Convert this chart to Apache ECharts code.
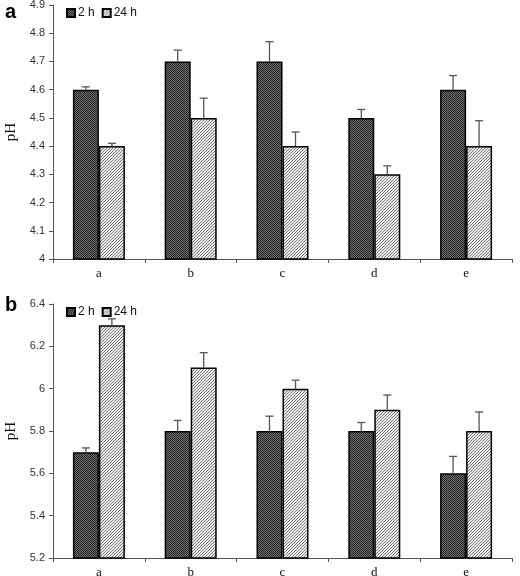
<!DOCTYPE html>
<html><head><meta charset="utf-8">
<script src="https://cdn.jsdelivr.net/npm/echarts@6/dist/echarts.min.js"></script>
<style>html,body{margin:0;padding:0;background:#fff}#c{width:520px;height:576px}</style>
</head><body><div id="c"></div>
<script>
const categories = ['a', 'b', 'c', 'd', 'e'];
const seriesNames = ['2 h', '24 h'];
const phA_2h = [4.6, 4.7, 4.7, 4.5, 4.6];
const errA_2h = [0.01, 0.04, 0.07, 0.03, 0.05];
const phA_24h = [4.4, 4.5, 4.4, 4.3, 4.4];
const errA_24h = [0.01, 0.07, 0.05, 0.03, 0.09];
const phB_2h = [5.7, 5.8, 5.8, 5.8, 5.6];
const errB_2h = [0.02, 0.05, 0.07, 0.04, 0.08];
const phB_24h = [6.3, 6.1, 6.0, 5.9, 5.8];
const errB_24h = [0.03, 0.07, 0.04, 0.07, 0.09];
const panelLabels = ['a', 'b'];
const yAxisName = 'pH';

const BAR_W = 26;

function checker() {
  const c = document.createElement('canvas'); c.width = 2; c.height = 2;
  const g = c.getContext('2d');
  g.fillStyle = '#6e6e6e'; g.fillRect(0, 0, 2, 2);
  g.fillStyle = '#262626'; g.fillRect(0, 0, 1, 1); g.fillRect(1, 1, 1, 1);
  return c;
}
function hatch() {
  const c = document.createElement('canvas'); c.width = 3; c.height = 3;
  const g = c.getContext('2d');
  g.fillStyle = '#ebebeb'; g.fillRect(0, 0, 3, 3);
  g.fillStyle = '#7a7a7a';
  g.fillRect(2, 0, 1, 1); g.fillRect(1, 1, 1, 1); g.fillRect(0, 2, 1, 1);
  return c;
}
const fill2h = { image: checker(), repeat: 'repeat' };
const fill24h = { image: hatch(), repeat: 'repeat' };

const grids = [
  { left: 53, top: 5, width: 459, height: 254, containLabel: false, outerBoundsMode: 'none' },
  { left: 53, top: 304, width: 459, height: 254, containLabel: false, outerBoundsMode: 'none' }
];

function xAxisFor(i) {
  return {
    type: 'category', gridIndex: i, data: categories,
    axisLine: { lineStyle: { color: '#555', width: 1 } },
    axisTick: { show: true, length: 4, lineStyle: { color: '#555' } },
    axisLabel: { color: '#111', fontFamily: 'Liberation Serif', fontSize: 13, margin: 8 }
  };
}
function yAxisFor(i, min, max, interval) {
  return {
    type: 'value', gridIndex: i, min: min, max: max, interval: interval,
    name: yAxisName, nameLocation: 'middle', nameGap: 33, nameRotate: 90,
    nameTextStyle: { fontFamily: 'Liberation Serif', fontSize: 15, color: '#111' },
    axisLine: { show: true, lineStyle: { color: '#555', width: 1 } },
    axisTick: { show: true, length: 4, inside: false, lineStyle: { color: '#555' } },
    axisLabel: { color: '#333', fontFamily: 'Liberation Sans', fontSize: 11, margin: 8 },
    splitLine: { show: false }
  };
}

function barSeries(name, data, fill, i) {
  return {
    type: 'bar', name: name, xAxisIndex: i, yAxisIndex: i, data: data,
    barWidth: BAR_W, barGap: '0%',
    itemStyle: { color: fill, borderColor: '#000', borderWidth: 1.5 },
    emphasis: { disabled: true }, z: 2
  };
}
function errSeries(vals, errs, side, i) {
  return {
    type: 'custom', xAxisIndex: i, yAxisIndex: i, z: 3, silent: true,
    data: vals.map((v, k) => [k, v, v + errs[k]]),
    renderItem: function (params, api) {
      const p0 = api.coord([api.value(0), api.value(1)]);
      const p1 = api.coord([api.value(0), api.value(2)]);
      const x = p0[0] + side * BAR_W / 2;
      const st = { stroke: '#555', lineWidth: 1.3 };
      return {
        type: 'group', children: [
          { type: 'line', shape: { x1: x, y1: p0[1], x2: x, y2: p1[1] }, style: st },
          { type: 'line', shape: { x1: x - 4, y1: p1[1], x2: x + 4, y2: p1[1] }, style: st }
        ]
      };
    }
  };
}

function legendFor(top) {
  return {
    data: seriesNames, left: 61, top: top, orient: 'horizontal',
    icon: 'rect', itemWidth: 8, itemHeight: 8, itemGap: 7,
    selectedMode: false,
    textStyle: { fontFamily: 'Liberation Sans', fontSize: 12, color: '#111', padding: [0, 0, 0, -2] }
  };
}

const chart = echarts.init(document.getElementById('c'), null, { renderer: 'canvas' });
chart.setOption({
  animation: false,
  backgroundColor: '#fff',
  grid: grids,
  xAxis: [xAxisFor(0), xAxisFor(1)],
  yAxis: [yAxisFor(0, 4, 4.9, 0.1), yAxisFor(1, 5.2, 6.4, 0.2)],
  legend: [legendFor(2), legendFor(301)],
  title: [
    { text: panelLabels[0], left: 0, top: -3, textStyle: { fontFamily: 'Liberation Sans', fontWeight: 'bold', fontSize: 20, color: '#000' } },
    { text: panelLabels[1], left: 0, top: 290, textStyle: { fontFamily: 'Liberation Sans', fontWeight: 'bold', fontSize: 20, color: '#000' } }
  ],
  series: [
    barSeries(seriesNames[0], phA_2h, fill2h, 0),
    barSeries(seriesNames[1], phA_24h, fill24h, 0),
    barSeries(seriesNames[0], phB_2h, fill2h, 1),
    barSeries(seriesNames[1], phB_24h, fill24h, 1),
    errSeries(phA_2h, errA_2h, -1, 0),
    errSeries(phA_24h, errA_24h, 1, 0),
    errSeries(phB_2h, errB_2h, -1, 1),
    errSeries(phB_24h, errB_24h, 1, 1)
  ]
});
</script></body></html>
